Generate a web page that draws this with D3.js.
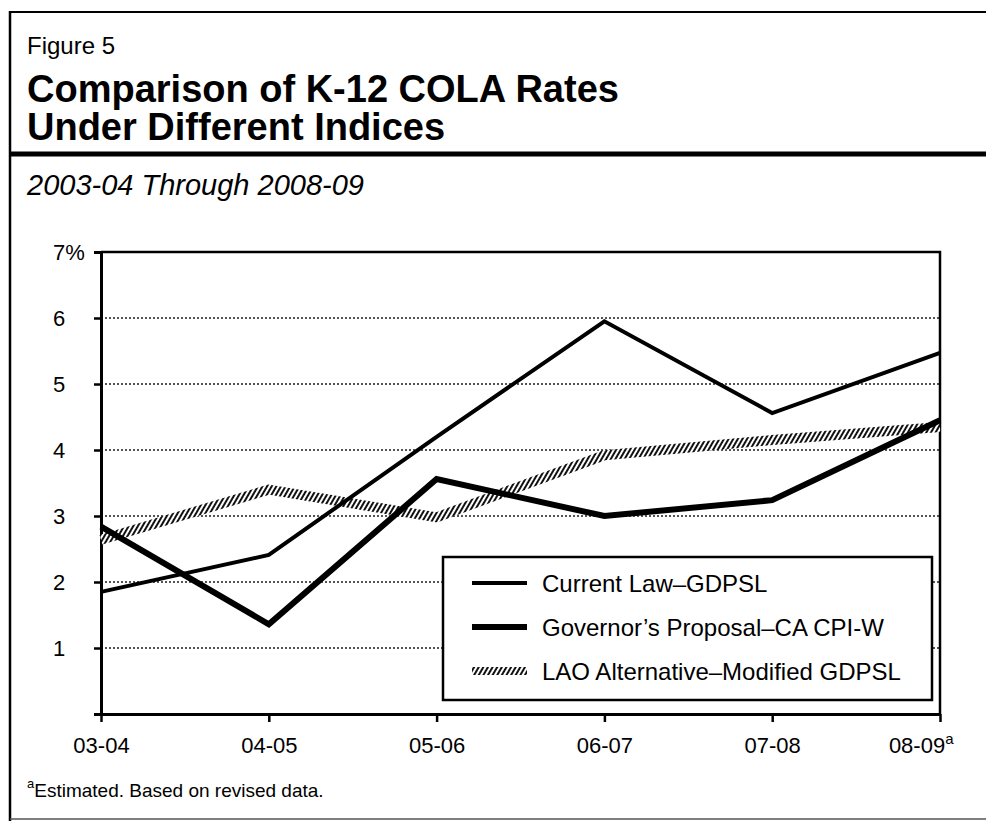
<!DOCTYPE html>
<html>
<head>
<meta charset="utf-8">
<script src="https://cdn.jsdelivr.net/npm/d3@7"></script>
<style>
  body { margin: 0; background: #fff; }
  svg { display: block; font-family: "Liberation Sans", Arial, sans-serif; }
</style>
</head>
<body>
<div id="chart"></div>
<script>
// data
var categories = ["03-04", "04-05", "05-06", "06-07", "07-08", "08-09"];
var currentLaw = [1.85, 2.41, 4.2, 5.95, 4.56, 5.47];
var governor = [2.84, 1.36, 3.56, 3.0, 3.24, 4.45];
var laoAlt = [2.64, 3.4, 2.98, 3.92, 4.15, 4.35];
var yTicks = [1, 2, 3, 4, 5, 6, 7];
var seriesNames = ["Current Law\u2013GDPSL", "Governor\u2019s Proposal\u2013CA CPI-W", "LAO Alternative\u2013Modified GDPSL"];

var W = 986, H = 821;
var margin = {top: 252, right: 46, bottom: 107, left: 101},
    width = W - margin.left - margin.right,
    height = H - margin.top - margin.bottom;

var svg = d3.select("#chart")
  .append("svg")
  .attr("width", W)
  .attr("height", H);

// hatch pattern for the LAO line
var defs = svg.append("defs");
var pat = defs.append("pattern")
  .attr("id", "hatch")
  .attr("patternUnits", "userSpaceOnUse")
  .attr("width", 4)
  .attr("height", 4)
  .attr("patternTransform", "rotate(30)");
pat.append("rect").attr("width", 4).attr("height", 4).attr("fill", "#fff");
pat.append("rect").attr("width", 2).attr("height", 4).attr("fill", "#111");

// frame
svg.append("line").attr("x1", 10).attr("x2", W).attr("y1", 12).attr("y2", 12)
  .attr("stroke", "#000").attr("stroke-width", 2);
svg.append("line").attr("x1", 10).attr("x2", 10).attr("y1", 11).attr("y2", H)
  .attr("stroke", "#000").attr("stroke-width", 2.5);
svg.append("line").attr("x1", 10).attr("x2", W).attr("y1", 154).attr("y2", 154)
  .attr("stroke", "#000").attr("stroke-width", 5);
svg.append("line").attr("x1", 10).attr("x2", W).attr("y1", 819).attr("y2", 819)
  .attr("stroke", "#555").attr("stroke-width", 1.5);

// titles
svg.append("text").attr("x", 27).attr("y", 54)
  .style("font-size", "24px").text("Figure 5");
svg.append("text").attr("x", 27).attr("y", 102)
  .style("font-size", "38px").style("font-weight", "bold")
  .text("Comparison of K-12 COLA Rates");
svg.append("text").attr("x", 27).attr("y", 140)
  .style("font-size", "38px").style("font-weight", "bold")
  .text("Under Different Indices");
svg.append("text").attr("x", 27).attr("y", 195)
  .style("font-size", "29px").style("font-style", "italic")
  .text("2003-04 Through 2008-09");

var g = svg.append("g")
  .attr("transform", "translate(" + margin.left + "," + margin.top + ")");

var x = d3.scalePoint()
  .domain(categories)
  .range([0, width]);

var y = d3.scaleLinear()
  .domain([0, 7])
  .range([height, 0]);

// dotted gridlines
g.append("g")
  .selectAll("line")
  .data(yTicks.filter(d => d < 7))
  .enter()
  .append("line")
  .attr("x1", 0)
  .attr("x2", width)
  .attr("y1", d => y(d))
  .attr("y2", d => y(d))
  .attr("stroke", "#555")
  .attr("stroke-width", 2)
  .attr("stroke-dasharray", "2,2");

// plot box (top + right)
g.append("path")
  .attr("d", "M0," + y(7) + "H" + width + "V" + height)
  .attr("fill", "none")
  .attr("stroke", "#000")
  .attr("stroke-width", 2.5);

// y axis
var yAxis = g.append("g")
  .call(d3.axisLeft(y)
    .tickValues(yTicks)
    .tickSize(7)
    .tickFormat(d => d));
yAxis.select(".domain").attr("stroke-width", 3);
yAxis.selectAll(".tick line").attr("stroke-width", 2.5);
yAxis.selectAll(".tick text")
  .attr("x", -48)
  .attr("text-anchor", "start")
  .attr("fill", "#000")
  .style("font-size", "22px")
  .attr("font-family", "Liberation Sans, Arial, sans-serif");
yAxis.selectAll(".tick text")
  .filter(d => d === 7)
  .text(d => d + "%");

// x axis
var xAxis = g.append("g")
  .attr("transform", "translate(0," + height + ")")
  .call(d3.axisBottom(x).tickSize(8).tickSizeOuter(0));
xAxis.select(".domain").attr("stroke-width", 3);
xAxis.selectAll(".tick line").attr("stroke-width", 2.5);
xAxis.selectAll(".tick text")
  .attr("y", 23)
  .attr("fill", "#000")
  .style("font-size", "22px")
  .attr("font-family", "Liberation Sans, Arial, sans-serif");
var lastTick = xAxis.selectAll(".tick text").filter(d => d === categories[categories.length - 1]);
lastTick.attr("text-anchor", "end").attr("x", 13);
lastTick.append("tspan")
  .attr("dy", "-0.55em")
  .style("font-size", "15px")
  .text("a");

// lines
var line = d3.line()
  .x((d, i) => x(categories[i]))
  .y(d => y(d));

g.append("path")
  .datum(laoAlt)
  .attr("d", line)
  .attr("fill", "none")
  .attr("stroke", "url(#hatch)")
  .attr("stroke-width", 10)
  .attr("stroke-linejoin", "round");

g.append("path")
  .datum(currentLaw)
  .attr("d", line)
  .attr("fill", "none")
  .attr("stroke", "#000")
  .attr("stroke-width", 4);

g.append("path")
  .datum(governor)
  .attr("d", line)
  .attr("fill", "none")
  .attr("stroke", "#000")
  .attr("stroke-width", 6);

// legend
var legend = svg.append("g").attr("transform", "translate(443,557)");
legend.append("rect")
  .attr("width", 489)
  .attr("height", 143)
  .attr("fill", "#fff")
  .attr("stroke", "#000")
  .attr("stroke-width", 2.5);

var legendStyles = [
  {stroke: "#000", w: 4},
  {stroke: "#000", w: 6},
  {stroke: "url(#hatch)", w: 8}
];

var rows = legend.selectAll(".row")
  .data(seriesNames)
  .enter()
  .append("g")
  .attr("class", "row")
  .attr("transform", (d, i) => "translate(0," + (26 + i * 44) + ")");

rows.append("line")
  .attr("x1", 29)
  .attr("x2", 84)
  .attr("stroke", (d, i) => legendStyles[i].stroke)
  .attr("stroke-width", (d, i) => legendStyles[i].w);

rows.append("text")
  .attr("x", 99)
  .attr("dy", "0.36em")
  .style("font-size", "24px")
  .text(d => d);

// footnote
var foot = svg.append("text").attr("x", 27).attr("y", 794)
  .style("font-size", "19px");
foot.append("tspan").attr("dy", "-0.45em").style("font-size", "13px").text("a");
foot.append("tspan").attr("dy", "0.45em").style("font-size", "19px").text("Estimated. Based on revised data.");
</script>
</body>
</html>
